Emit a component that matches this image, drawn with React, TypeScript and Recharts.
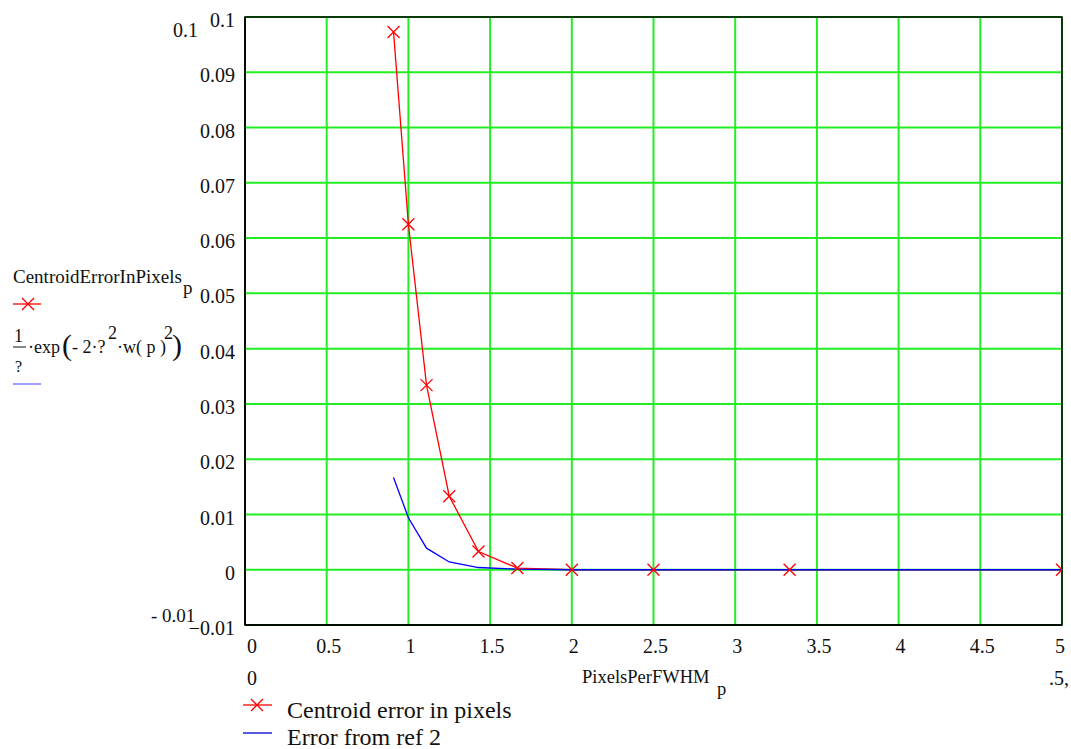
import React from 'react';
import { LineChart, Line, XAxis, YAxis, CartesianGrid, ReferenceArea } from 'recharts';

// PixelsPerFWHM sample points (5 / p)
const pixelsPerFWHM = [0.909, 1.0, 1.111, 1.25, 1.429, 1.667, 2.0, 2.5, 3.333, 5.0];
const centroidError = [0.0973, 0.0625, 0.0334, 0.0133, 0.0033, 0.0003, 0, 0, 0, 0];
const refError = [0.0167, 0.0094, 0.0039, 0.0014, 0.0004, 0.0001, 0, 0, 0, 0];

const xTicks = [0, 0.5, 1, 1.5, 2, 2.5, 3, 3.5, 4, 4.5, 5];
const yTicks = [-0.01, 0, 0.01, 0.02, 0.03, 0.04, 0.05, 0.06, 0.07, 0.08, 0.09, 0.1];

const data = pixelsPerFWHM.map((x, i) => ({ x, red: centroidError[i], blue: refError[i] }));

const FONT = '"Liberation Serif", "Times New Roman", serif';
const GREEN = '#22ee22';

const Cross = (props: any) => {
  const { cx, cy, index } = props;
  if (cx == null || cy == null) return <g key={`c-${index}`} />;
  const s = 6;
  return (
    <path
      key={`c-${index}`}
      d={`M${cx - s},${cy - s}L${cx + s},${cy + s}M${cx - s},${cy + s}L${cx + s},${cy - s}`}
      stroke="#ff0000"
      strokeWidth={1.3}
      fill="none"
    />
  );
};

const fmt = (v: number) => String(v).replace('-', '\u2212');

const YTick = (props: any) => {
  const { x, y, payload } = props;
  return (
    <text x={x} y={y + 3} dy="0.355em" textAnchor="end" fontFamily={FONT} fontSize={20} fill="#111">
      {fmt(payload.value)}
    </text>
  );
};

// Mathcad nudges the end labels inward a little
const XTick = (props: any) => {
  const { x, y, payload } = props;
  const nudge = payload.value === 0 ? 7 : payload.value === 5 ? -2 : 2;
  return (
    <text x={x + nudge} y={y} dy="0.71em" textAnchor="middle" fontFamily={FONT} fontSize={20} fill="#111">
      {String(payload.value)}
    </text>
  );
};

const App: React.FC = () => {
  return (
    <div style={{ position: 'absolute', left: 0, top: 0, width: 1071, height: 749, background: '#fff' }}>
      <LineChart width={1071} height={749} data={data} margin={{ top: 17, right: 9, left: 185, bottom: 94 }}>
        <CartesianGrid stroke={GREEN} strokeWidth={2} horizontalValues={yTicks} verticalValues={xTicks} />
        <XAxis
          type="number"
          dataKey="x"
          domain={[0, 5]}
          ticks={xTicks}
          height={30}
          tickLine={false}
          axisLine={{ stroke: '#000', strokeWidth: 1.5 }}
          tickMargin={8}
          tick={<XTick />}
          allowDataOverflow
        />
        <YAxis
          type="number"
          domain={[-0.01, 0.1]}
          ticks={yTicks}
          width={60}
          tickLine={false}
          axisLine={{ stroke: '#000', strokeWidth: 1.5 }}
          tickMargin={4}
          tick={<YTick />}
          allowDataOverflow
        />
        <ReferenceArea x1={0} x2={5} y1={-0.01} y2={0.1} fill="none" stroke="#000" strokeWidth={1.5} />
        <Line
          type="linear"
          dataKey="red"
          stroke="#ff0000"
          strokeWidth={1.3}
          dot={Cross}
          activeDot={false}
          isAnimationActive={false}
        />
        <Line
          type="linear"
          dataKey="blue"
          stroke="#0000ff"
          strokeWidth={1.3}
          dot={false}
          activeDot={false}
          isAnimationActive={false}
        />
      </LineChart>
      <svg
        width={1071}
        height={749}
        style={{ position: 'absolute', left: 0, top: 0, pointerEvents: 'none' }}
        fontFamily={FONT}
        fill="#111"
      >
        {/* axis limit labels */}
        <text x={173} y={37} fontSize={20}>0.1</text>
        <text x={151} y={622} fontSize={19}>- 0.01</text>
        <text x={247} y={685} fontSize={20}>0</text>
        <text x={1049} y={685} fontSize={20}>.5,</text>
        <text x={582} y={683} fontSize={18.5}>PixelsPerFWHM</text>
        <text x={717} y={695} fontSize={18.5}>p</text>

        {/* left trace labels */}
        <text x={13} y={283} fontSize={19}>CentroidErrorInPixels</text>
        <text x={183} y={294} fontSize={19}>p</text>
        <line x1={13} y1={304} x2={41} y2={304} stroke="#ff0000" strokeWidth={1.3} />
        <path d="M22,298L34,310M22,310L34,298" stroke="#ff0000" strokeWidth={1.3} fill="none" />

        <text x={14} y={342} fontSize={18}>1</text>
        <line x1={13} y1={347} x2={26} y2={347} stroke="#111" strokeWidth={1} />
        <text x={15} y={372} fontSize={16}>?</text>
        <text x={28} y={353} fontSize={18}>·exp</text>
        <text x={62} y={355} fontSize={30} fontWeight={200}>(</text>
        <text x={72} y={353} fontSize={18}>- 2·?</text>
        <text x={108} y={339} fontSize={18}>2</text>
        <text x={117} y={353} fontSize={18}>·w( p )</text>
        <text x={164} y={339} fontSize={18}>2</text>
        <text x={172} y={355} fontSize={30} fontWeight={200}>)</text>
        <line x1={13} y1={384} x2={41} y2={384} stroke="#6b6bff" strokeWidth={1.3} />

        {/* bottom legend */}
        <line x1={243} y1={705} x2={272} y2={705} stroke="#ff0000" strokeWidth={1.3} />
        <path d="M251,699L263,711M251,711L263,699" stroke="#ff0000" strokeWidth={1.3} fill="none" />
        <text x={287} y={718} fontSize={24}>Centroid error in pixels</text>
        <line x1={243} y1={733} x2={272} y2={733} stroke="#0000cc" strokeWidth={1.3} />
        <text x={287} y={745} fontSize={24}>Error from ref 2</text>
      </svg>
    </div>
  );
};

export default App;
